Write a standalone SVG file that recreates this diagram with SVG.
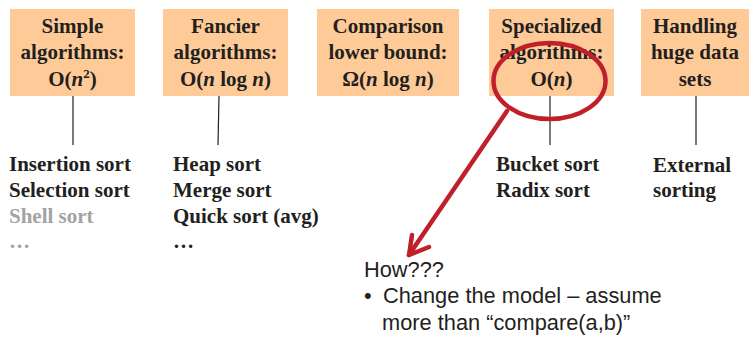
<svg xmlns="http://www.w3.org/2000/svg" width="751" height="338" viewBox="0 0 751 338">
<style>
.box{fill:#FECB98;}
.bt{font-family:"Liberation Serif","Times New Roman",serif;font-weight:bold;font-size:21px;fill:#231F20;text-anchor:middle;}
.lt{font-family:"Liberation Serif","Times New Roman",serif;font-weight:bold;font-size:21px;fill:#231F20;}
.gray{fill:#A3A3A3;}
.st{font-family:"Liberation Sans",Arial,sans-serif;font-size:21.8px;fill:#231F20;}
.conn{stroke:#231F20;stroke-width:1.2;fill:none;}
.red{stroke:#C0202A;stroke-width:4.5;fill:none;stroke-linecap:round;stroke-linejoin:round;}
</style>
<g id="connectors">
<line class="conn" x1="73" y1="96" x2="73" y2="145"/>
<line class="conn" x1="219" y1="96" x2="218" y2="145"/>
<line class="conn" x1="550" y1="96" x2="550" y2="145"/>
<line class="conn" x1="696" y1="96" x2="696" y2="145"/>
</g>
<g id="box1">
<rect class="box" x="10" y="9" width="125" height="87"/>
<text class="bt" x="72.5" y="33">Simple</text>
<text class="bt" x="72.5" y="59">algorithms:</text>
<text class="bt" x="72.5" y="86">O(<tspan font-style="italic">n</tspan><tspan font-size="13" dy="-8">2</tspan><tspan dy="8">)</tspan></text>
</g>
<g id="box2">
<rect class="box" x="163" y="9" width="125" height="87"/>
<text class="bt" x="225.5" y="33">Fancier</text>
<text class="bt" x="225.5" y="59">algorithms:</text>
<text class="bt" x="225.5" y="86">O(<tspan font-style="italic">n</tspan> log <tspan font-style="italic">n</tspan>)</text>
</g>
<g id="box3">
<rect class="box" x="317" y="9" width="142" height="87"/>
<text class="bt" x="388" y="33">Comparison</text>
<text class="bt" x="388" y="59">lower bound:</text>
<text class="bt" x="388" y="86">Ω(<tspan font-style="italic">n</tspan> log <tspan font-style="italic">n</tspan>)</text>
</g>
<g id="box4">
<rect class="box" x="489" y="9" width="125" height="87"/>
<text class="bt" x="551.5" y="33">Specialized</text>
<text class="bt" x="551.5" y="59">algorithms:</text>
<text class="bt" x="551.5" y="86">O(<tspan font-style="italic">n</tspan>)</text>
</g>
<g id="box5">
<rect class="box" x="641" y="9" width="108" height="87"/>
<text class="bt" x="695" y="33">Handling</text>
<text class="bt" x="695" y="59">huge data</text>
<text class="bt" x="695" y="86">sets</text>
</g>
<g id="list1">
<text class="lt" x="9" y="171">Insertion sort</text>
<text class="lt" x="9" y="197">Selection sort</text>
<text class="lt gray" x="9" y="223">Shell sort</text>
<text class="lt gray" x="9" y="248">…</text>
</g>
<g id="list2">
<text class="lt" x="173" y="171">Heap sort</text>
<text class="lt" x="173" y="197">Merge sort</text>
<text class="lt" x="173" y="223">Quick sort (avg)</text>
<text class="lt" x="173" y="248">…</text>
</g>
<g id="list4">
<text class="lt" x="496" y="171">Bucket sort</text>
<text class="lt" x="496" y="197">Radix sort</text>
</g>
<g id="list5">
<text class="lt" x="653" y="172">External</text>
<text class="lt" x="653" y="197">sorting</text>
</g>
<g id="highlight">
<ellipse class="red" cx="549.5" cy="81" rx="56" ry="38"/>
<line class="red" x1="507" y1="111" x2="409" y2="255"/>
<polyline class="red" points="412,235 409,255 429,247"/>
</g>
<g id="note">
<text class="st" x="364" y="277">How???</text>
<text class="st" x="364" y="303">•</text>
<text class="st" x="383" y="303">Change the model – assume</text>
<text class="st" x="382" y="330">more than “compare(a,b)”</text>
</g>
</svg>
